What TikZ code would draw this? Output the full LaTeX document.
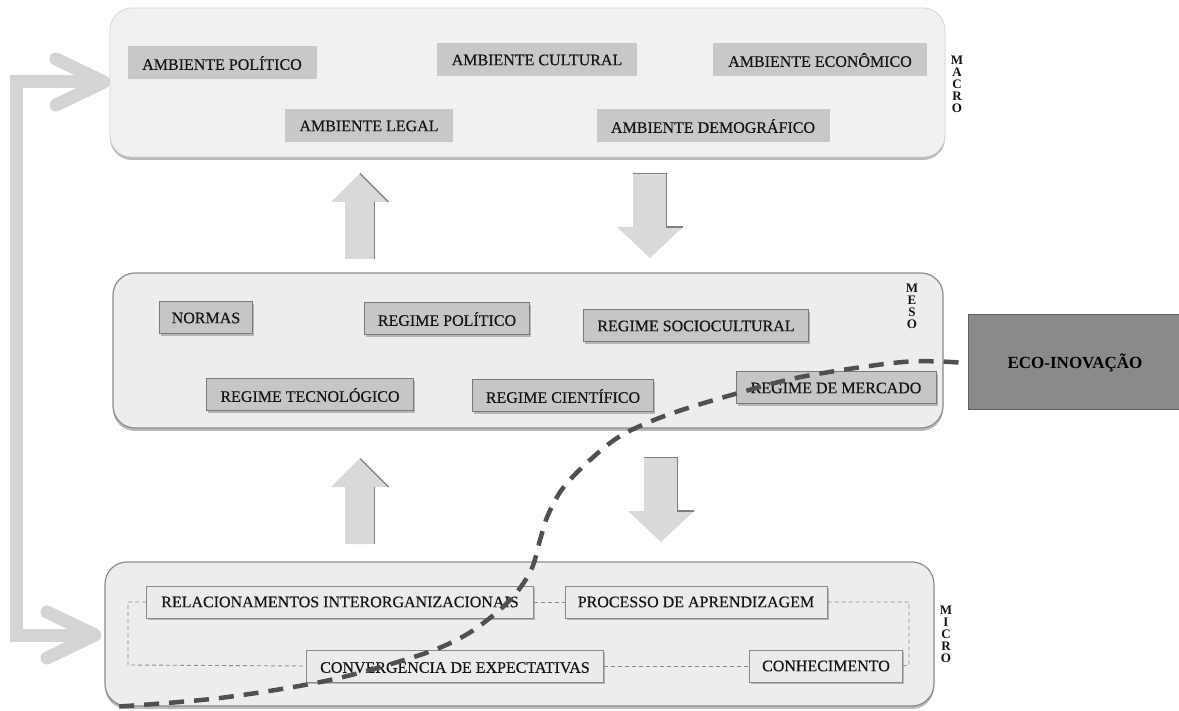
\documentclass[tikz,border=0pt]{standalone}
\usepackage{fontspec}
\setmainfont{Liberation Serif}
\newfontfamily\lblfont[FakeBold=0.35]{Liberation Serif}
\usetikzlibrary{shadows,calc}
\definecolor{fbgray}{HTML}{D4D4D4}
\definecolor{macfill}{HTML}{F1F1F1}
\definecolor{macdraw}{HTML}{D6D6D6}
\definecolor{maclbl}{HTML}{C8C8C8}
\definecolor{boxfill}{HTML}{EDEDED}
\definecolor{boxdraw}{HTML}{8C8C8C}
\definecolor{meslbl}{HTML}{C6C6C6}
\definecolor{meslbldraw}{HTML}{7A7A7A}
\definecolor{miclbl}{HTML}{EBEBEB}
\definecolor{miclbldraw}{HTML}{8A8A8A}
\definecolor{ecofill}{HTML}{8A8A8A}
\definecolor{ecodraw}{HTML}{5E5E5E}
\definecolor{curvecol}{HTML}{505050}
\definecolor{arrfill}{HTML}{D9D9D9}
\definecolor{arredge}{HTML}{808080}
\definecolor{txt}{HTML}{141414}
\begin{document}
\begin{tikzpicture}[x=1pt,y=-1pt,
  lbl/.style={inner sep=0pt,text=txt,font=\lblfont\fontsize{16}{19}\selectfont},
  bigbox/.style={rounded corners=22pt,inner sep=0pt},
  maclabel/.style={lbl,fill=maclbl,minimum height=33pt},
  meslabel/.style={lbl,fill=meslbl,draw=meslbldraw,line width=1pt,minimum height=32pt,
    drop shadow={shadow xshift=1.5pt,shadow yshift=-2pt,fill=black!50,opacity=.5}},
  miclabel/.style={lbl,fill=miclbl,draw=miclbldraw,line width=1pt,minimum height=32pt,
    drop shadow={shadow xshift=1.5pt,shadow yshift=-2pt,fill=black!50,opacity=.5}},
  levellbl/.style={inner sep=0pt,align=center,text=txt,font=\bfseries\fontsize{13}{12}\selectfont},
  fb/.style={draw=fbgray,line width=13pt},
  loopline/.style={draw=miclbldraw,line width=0.9pt,dash pattern=on 4pt off 3pt},
  ecoline/.style={draw=curvecol,line width=4.5pt,dash pattern=on 15pt off 10pt},
  uparrow/.pic={
    \fill[arrfill] (0,0) -- (29,29) -- (15,29) -- (15,86) -- (-15,86) -- (-15,29) -- (-29,29) -- cycle;
    \draw[arredge,line width=1.3pt] (0,0.5) -- (28.5,29);
    \draw[arredge,line width=1.3pt] (14.5,29) -- (14.5,86);
  },
  downarrow/.pic={
    \fill[arrfill] (-17,0) -- (17,0) -- (17,54) -- (33,54) -- (0,85) -- (-33,54) -- (-17,54) -- cycle;
    \draw[arredge,line width=1.3pt] (-17,0.5) -- (16.5,0.5) -- (16.5,54) -- (33,54);
  }]
\useasboundingbox (0,0) rectangle (1179,711);
\fill[white] (0,0) rectangle (1179,711);

% feedback arrow
\coordinate (fbtop) at (104,82);
\coordinate (fbbot) at (95,635);
\draw[fb] (fbtop) -- (16,82) -- (16,635) -- (fbbot);
\draw[fb,line join=round,line cap=round] ($(fbtop)+(-48,-23)$) -- (fbtop) -- ($(fbtop)+(-48,23)$);
\draw[fb,line join=round,line cap=round] ($(fbbot)+(-48,-23)$) -- (fbbot) -- ($(fbbot)+(-48,23)$);

% level boxes
\node[bigbox,fill=macfill,draw=macdraw,line width=0.8pt,minimum width=835pt,minimum height=149pt,
  drop shadow={shadow xshift=0pt,shadow yshift=-3pt,fill=black!45,opacity=.6}] (macro) at (527.5,82.5) {};
\node[bigbox,fill=boxfill,draw=boxdraw,line width=1.2pt,minimum width=830pt,minimum height=155pt,
  drop shadow={shadow xshift=0pt,shadow yshift=-3pt,fill=black!45,opacity=.6}] (meso) at (528,350.5) {};
\node[bigbox,fill=boxfill,draw=boxdraw,line width=1.2pt,minimum width=829pt,minimum height=144pt,
  drop shadow={shadow xshift=0pt,shadow yshift=-3pt,fill=black!45,opacity=.6}] (micro) at (519.5,634) {};

% macro labels
\node[maclabel,minimum width=189pt] (pol) at (222,63) {AMBIENTE POLÍTICO};
\node[maclabel,minimum width=200pt] (cult) at (537,60) {AMBIENTE CULTURAL};
\node[maclabel,minimum width=214pt] (econ) at (820,60) {AMBIENTE ECONÔMICO};
\node[maclabel,minimum width=168pt] (legal) at (369,126) {AMBIENTE LEGAL};
\node[maclabel,minimum width=233pt] (demo) at (713,126) {AMBIENTE DEMOGRÁFICO};
\node[levellbl] (macrolbl) at (957,84) {M\\A\\C\\R\\O};

% meso labels
\node[meslabel,minimum width=93pt] (normas) at (206,318) {NORMAS};
\node[meslabel,minimum width=165pt] (rpol) at (447,319) {REGIME POLÍTICO};
\node[meslabel,minimum width=225pt] (rsoc) at (696,326) {REGIME SOCIOCULTURAL};
\node[meslabel,minimum width=207pt] (rtec) at (310,395) {REGIME TECNOLÓGICO};
\node[meslabel,minimum width=181pt] (rcie) at (563,396) {REGIME CIENTÍFICO};
\node[meslabel,minimum width=200pt] (rmer) at (836,388) {REGIME DE MERCADO};
\node[levellbl] (mesolbl) at (912,306) {M\\E\\S\\O};

% eco-inovacao
\node[fill=ecofill,draw=ecodraw,line width=1pt,minimum width=214pt,minimum height=95pt,inner sep=0pt,
  text=black,font=\bfseries\fontsize{17}{20}\selectfont] (eco) at (1075,362.5) {ECO-INOVAÇÃO};

% block arrows
\pic at (360,173) {uparrow};
\pic at (650,173) {downarrow};
\pic at (360,458) {uparrow};
\pic at (661,457) {downarrow};

% micro dashed loop
\coordinate (loopTL) at (128,602);
\coordinate (loopBL) at (128,665);
\coordinate (loopTR) at (909,602);
\coordinate (loopBR) at (909,665);

% micro labels
\node[miclabel,minimum width=387pt] (relac) at (340,602) {RELACIONAMENTOS INTERORGANIZACIONAIS};
\node[miclabel,minimum width=262pt] (proc) at (696,602) {PROCESSO DE APRENDIZAGEM};
\node[miclabel,minimum width=297pt] (conv) at (455,666) {CONVERGÊNCIA DE EXPECTATIVAS};
\node[miclabel,minimum width=153pt] (conh) at (826,666) {CONHECIMENTO};
\draw[loopline] (relac.west) -- (loopTL) -- (loopBL) -- (conv.west);
\draw[loopline] (relac.east) -- (proc.west);
\draw[loopline] (proc.east) -- (loopTR) -- (loopBR) -- (conh.east);
\draw[loopline] (conv.east) -- (conh.west);
\node[levellbl] (microlbl) at (946,634) {M\\I\\C\\R\\O};

% eco-innovation curve
\coordinate (c0) at ([xshift=-9pt]eco.west);
\coordinate (cend) at (112,707);
\draw[ecoline] plot[smooth,tension=0.55] coordinates {(c0) (903,362) (806,376) (742,392) (670,414) (622,435) (590,460) (563,488) (548,515) (540,540) (532,568) (517,592) (496,613) (464,636) (420,655) (330,680) (220,698) (cend)};
\end{tikzpicture}
\end{document}
